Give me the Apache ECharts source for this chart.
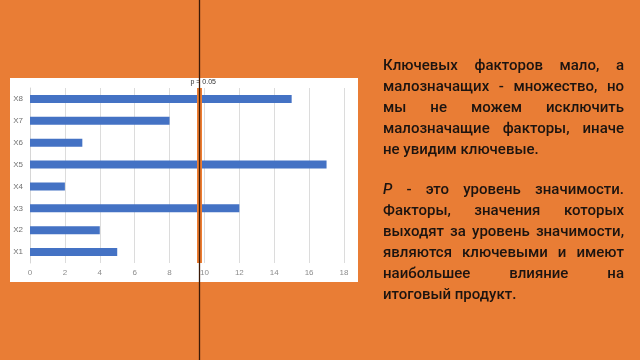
<!DOCTYPE html>
<html>
<head>
<meta charset="utf-8">
<script src="https://cdn.jsdelivr.net/npm/echarts@6/dist/echarts.min.js"></script>
<style>
    html, body { margin: 0; padding: 0; }
    body { width: 640px; height: 360px; background: #E97D35; position: relative; overflow: hidden; }
    #chart { position: absolute; left: 0; top: 0; width: 640px; height: 360px; }
    .txt {
        position: absolute; left: 383px; width: 241px;
        font-family: Roboto, "Noto Sans", sans-serif; font-size: 15px; font-weight: 500;
        line-height: 21px; color: #1c1410;
    }
    .txt div { text-align: justify; text-align-last: justify; white-space: nowrap; }
    .txt div.last { text-align-last: left; }
</style>
</head>
<body>
<div id="chart"></div>
<div class="txt" style="top: 55px;">
    <div>Ключевых факторов мало, а</div>
    <div>малозначащих - множество, но</div>
    <div>мы не можем исключить</div>
    <div>малозначащие факторы, иначе</div>
    <div class="last">не увидим ключевые.</div>
</div>
<div class="txt" style="top: 179px;">
    <div><i>P</i> - это уровень значимости.</div>
    <div>Факторы, значения которых</div>
    <div>выходят за уровень значимости,</div>
    <div>являются ключевыми и имеют</div>
    <div>наибольшее влияние на</div>
    <div class="last">итоговый продукт.</div>
</div>
<script>
const factors = ["X1", "X2", "X3", "X4", "X5", "X6", "X7", "X8"];
const factorValues = [5, 4, 12, 2, 17, 3, 8, 15];
const pValue = 9.7;
const pLabel = "p = 0.05";

document.addEventListener("DOMContentLoaded", () => {
    const chart = echarts.init(document.getElementById("chart"));

    chart.setOption({
        animation: false,
        backgroundColor: "transparent",
        grid: { left: 30, right: 296, top: 88, bottom: 97 },
        xAxis: {
            type: "value",
            min: 0,
            max: 18,
            interval: 2,
            axisLine: { show: false },
            axisTick: { show: false },
            axisLabel: { fontSize: 8, color: "#8c8c8c", margin: 6 },
            splitLine: { lineStyle: { color: "#dcdcdc", width: 1 } }
        },
        yAxis: {
            type: "category",
            data: factors,
            axisLine: { lineStyle: { color: "#d6d6d6" } },
            axisTick: { show: false },
            axisLabel: { fontSize: 8, color: "#707070", margin: 7 }
        },
        graphic: [
            {
                type: "rect",
                z: -10,
                shape: { x: 10, y: 78, width: 348, height: 204 },
                style: { fill: "#ffffff" }
            },
            {
                type: "line",
                z: 100,
                shape: { x1: 199.5, y1: 0, x2: 199.5, y2: 360 },
                style: { stroke: "#3b1a08", lineWidth: 1.3 }
            }
        ],
        series: [
            {
                type: "bar",
                data: factorValues,
                barWidth: 8,
                itemStyle: { color: "#4472C4" },
                markLine: {
                    silent: true,
                    symbol: "none",
                    data: [{ xAxis: pValue }],
                    lineStyle: { color: "#ED7D31", width: 5, type: "solid" },
                    label: {
                        formatter: pLabel,
                        position: "end",
                        fontSize: 7,
                        color: "#333",
                        distance: 2,
                        offset: [4, 0]
                    }
                }
            }
        ]
    });
});
</script>
</body>
</html>
